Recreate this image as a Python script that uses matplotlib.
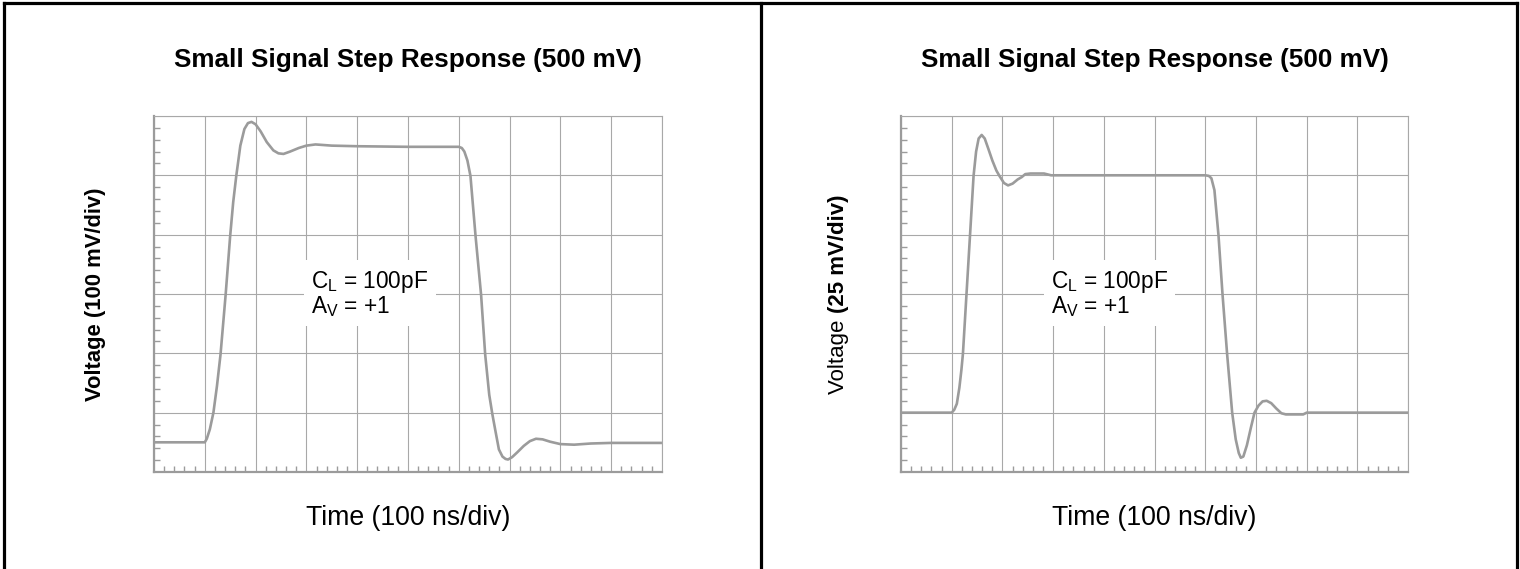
import matplotlib
matplotlib.use("Agg")
import matplotlib.pyplot as plt
from matplotlib.ticker import MultipleLocator
from matplotlib.lines import Line2D

plt.rcParams['font.family'] = ['Liberation Sans', 'DejaVu Sans']
plt.rcParams['mathtext.fontset'] = 'custom'
plt.rcParams['mathtext.rm'] = 'Liberation Sans'
plt.rcParams['mathtext.it'] = 'Liberation Sans'

t_left = [0, 1.0, 1.04, 1.1, 1.17, 1.24, 1.31, 1.41, 1.50, 1.56, 1.62, 1.70, 1.78, 1.85, 1.92,
          2.0, 2.1, 2.22, 2.35, 2.45, 2.55, 2.68, 2.85, 3.0, 3.18, 3.5, 4.0, 5.0, 5.7, 6.0,
          6.06, 6.11, 6.17, 6.23, 6.33, 6.44, 6.52, 6.60, 6.66, 6.72, 6.79, 6.86, 6.92, 6.97,
          7.05, 7.15, 7.28, 7.40, 7.52, 7.65, 7.8, 8.0, 8.27, 8.6, 9.0, 10.0]
v_left = [0.5, 0.5, 0.56, 0.72, 1.0, 1.45, 1.98, 2.98, 3.98, 4.55, 4.99, 5.5, 5.78, 5.88, 5.9,
          5.86, 5.74, 5.56, 5.42, 5.37, 5.36, 5.40, 5.46, 5.50, 5.52, 5.50, 5.49, 5.48, 5.48, 5.48,
          5.46, 5.40, 5.25, 4.99, 3.98, 2.98, 1.98, 1.30, 0.98, 0.70, 0.38, 0.26, 0.22, 0.21,
          0.25, 0.33, 0.44, 0.52, 0.56, 0.55, 0.51, 0.47, 0.46, 0.48, 0.49, 0.49]

t_right = [0, 1.0, 1.05, 1.10, 1.15, 1.19, 1.22, 1.29, 1.36, 1.43, 1.48, 1.53, 1.59, 1.65, 1.72,
           1.80, 1.88, 1.94, 2.03, 2.11, 2.20, 2.30, 2.38, 2.45, 2.55, 2.82, 2.96, 4.0, 5.0, 6.0,
           6.07, 6.12, 6.18, 6.26, 6.34, 6.43, 6.53, 6.60, 6.66, 6.70, 6.75, 6.82, 6.90, 6.97,
           7.05, 7.13, 7.21, 7.30, 7.40, 7.50, 7.59, 7.75, 7.93, 8.0, 10.0]
v_right = [1.0, 1.0, 1.05, 1.15, 1.42, 1.72, 1.99, 2.99, 3.99, 4.99, 5.40, 5.62, 5.68, 5.62, 5.45,
           5.25, 5.08, 4.99, 4.87, 4.83, 4.86, 4.93, 4.97, 5.02, 5.03, 5.03, 5.0, 5.0, 5.0, 5.0,
           4.99, 4.95, 4.75, 3.99, 2.99, 1.99, 1.0, 0.55, 0.32, 0.24, 0.26, 0.45, 0.75, 1.0,
           1.12, 1.19, 1.20, 1.16, 1.07, 0.99, 0.97, 0.97, 0.97, 1.0, 1.0]

title = "Small Signal Step Response (500 mV)"
xlabel = "Time (100 ns/div)"
note = "C$_\\mathregular{L}$ = 100pF\nA$_\\mathregular{V}$ = +1"

grey = '#9b9b9b'

fig = plt.figure(figsize=(15.2, 5.69), dpi=100)

def panel(rect, t, v, note_x):
    ax = fig.add_axes(rect)
    ax.plot(t, v, color=grey, lw=1.9, solid_capstyle='butt', zorder=3)
    ax.set_xlim(0, 10)
    ax.set_ylim(0, 6)
    ax.xaxis.set_major_locator(MultipleLocator(1))
    ax.yaxis.set_major_locator(MultipleLocator(1))
    ax.xaxis.set_minor_locator(MultipleLocator(0.2))
    ax.yaxis.set_minor_locator(MultipleLocator(0.2))
    ax.tick_params(which='both', direction='in', color=grey, width=1.0,
                   labelbottom=False, labelleft=False, top=False, right=False)
    ax.tick_params(which='major', length=0)
    ax.tick_params(which='minor', length=4)
    ax.grid(True, which='major', color='#a8a8a8', lw=0.8)
    for s in ['left', 'bottom']:
        ax.spines[s].set_color(grey)
        ax.spines[s].set_linewidth(1.6)
    for s in ['top', 'right']:
        ax.spines[s].set_color('#a8a8a8')
        ax.spines[s].set_linewidth(0.8)
    ax.set_axisbelow(True)
    ax.text(0.5, 1.157, title, transform=ax.transAxes, ha='center', va='center',
            fontsize=18.8, fontweight='bold')
    ax.text(0.5, -0.13, xlabel, transform=ax.transAxes, ha='center', va='center',
            fontsize=19.2)
    ax.text(note_x, 3.0, note, ha='left', va='center', fontsize=16.3, linespacing=1.0,
            zorder=4, bbox=dict(facecolor='white', edgecolor='none', pad=5))
    return ax

ax1 = panel([0.1013, 0.1705, 0.3342, 0.6257], t_left, v_left, 3.1)
ax2 = panel([0.5928, 0.1705, 0.3336, 0.6257], t_right, v_right, 2.95)

ax1.text(-0.116, 0.5, "Voltage (100 mV/div)", transform=ax1.transAxes, rotation=90,
         ha='center', va='center', fontsize=15.8, fontweight='bold')

# right label: plain word then bold scale
lab1 = ax2.text(-0.124, 0.22, "Voltage ", transform=ax2.transAxes, rotation=90,
                rotation_mode='anchor', ha='left', va='center', fontsize=16)
fig.canvas.draw()
bb = lab1.get_window_extent().transformed(ax2.transAxes.inverted())
ax2.text(-0.124, bb.y1, "(25 mV/div)", transform=ax2.transAxes, rotation=90,
         rotation_mode='anchor', ha='left', va='center', fontsize=16, fontweight='bold')

# panel frames
W, H = 1520, 569
for xs, ys in [([4, 4], [0, 566]), ([4, 1517], [566, 566]),
               ([1517, 1517], [0, 566]), ([761, 761], [0, 566])]:
    fig.add_artist(Line2D([x / W for x in xs], [y / H for y in ys],
                          color='black', lw=2.3, transform=fig.transFigure))

fig.savefig("out.png", dpi=100)
